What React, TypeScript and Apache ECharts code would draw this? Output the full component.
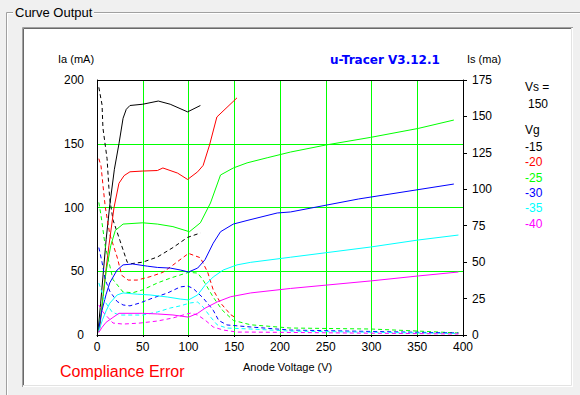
import React, { useEffect, useRef } from "react";
import * as echarts from "echarts";

// Vg legend (grid voltages) and their colours
const vgLabels = ["-15", "-20", "-25", "-30", "-35", "-40"];
const vgColors = ["#000000", "#ff0000", "#00ff00", "#0000ff", "#00ffff", "#ff00ff"];

// Anode current Ia (mA) vs anode voltage (V) — solid lines, left axis
const iaM15 = [[1, 2], [4, 25], [7, 50], [10, 75], [14, 102], [19, 130], [24, 150], [28.5, 170], [32, 177], [36, 180], [50, 181], [67, 183.5], [80, 181], [99, 175], [113, 180]];
const iaM20 = [[3, 5], [8, 40], [13, 70], [18.6, 100], [24, 119], [29.6, 125], [36, 128], [50, 128.6], [66, 129], [72, 131], [88, 127], [99, 122], [110, 128], [116, 133], [123, 149], [131, 171], [153, 186]];
const iaM25 = [[2, 5], [5, 20], [10, 50], [15, 70], [20, 82], [28.5, 87], [50, 88], [66, 87], [83, 85], [101, 81], [113, 88], [124, 103.5], [135, 125.5], [149, 131], [164, 135], [186, 139], [211.5, 143.5], [250, 149], [299, 155], [351, 162], [390, 168.6]];
const iaM30 = [[2, 5], [5, 18], [10, 32], [14, 41], [22, 51], [28.5, 55], [39, 55.7], [55, 54], [66, 53], [80, 52.5], [91, 51], [100, 49.4], [110, 52.5], [118, 59], [127, 72], [135, 81], [149, 87], [165, 90], [197, 95.7], [211.5, 96.5], [286, 106.7], [390, 118.4]];
const iaM35 = [[2, 3], [6, 12], [10, 19], [14, 25], [22, 31.4], [28.5, 33], [44, 32], [58, 31.4], [77, 29.8], [91, 28.2], [100, 27.5], [110, 31.4], [118, 39], [127, 45.5], [138, 51], [153, 55], [168, 57], [211.5, 61], [299, 69], [351, 74.5], [395, 78.4]];
const iaM40 = [[2, 2], [5.5, 6], [10, 10], [16.5, 13.3], [24, 17], [50, 17], [66, 16.5], [83, 15.7], [100, 14], [110, 17], [118, 21], [131.5, 26], [146, 30], [168, 33], [211.5, 36.5], [299, 42.4], [351, 46.3], [395, 49.4]];

// Screen current Is (ma) vs anode voltage (V) — dashed lines, right axis
const isM15 = [[2, 170], [5.5, 158], [6.5, 142], [11, 121], [13, 101], [14, 93], [17.5, 79], [25, 65], [33, 50], [38, 49], [50, 50], [66, 53.5], [83, 60], [99, 67], [113, 70]];
const isM20 = [[2, 121], [4.4, 116], [6.5, 103], [9, 88], [14, 69], [22, 53.5], [27, 41], [34, 37.7], [44, 37.7], [58, 40], [72, 43], [83, 48], [100, 56], [113, 53], [121, 43], [127, 31], [135, 22], [146, 14], [151, 12]];
const isM25 = [[2, 91], [4.4, 82], [9, 61], [17.5, 38], [28.5, 29.5], [39, 29], [50, 31], [66, 35.7], [80, 39], [100, 43], [110, 42.5], [116, 37.7], [127, 26], [137, 17], [149, 10], [168, 7], [211, 4.8], [300, 4.1], [351, 2.7], [395, 1.4]];
const isM30 = [[2, 60], [5.5, 50], [9, 38], [14, 30], [22, 23], [28.5, 20.6], [36, 20], [47, 22], [61, 25.4], [77, 28.8], [91, 33], [99, 33.6], [105, 32], [116, 25.4], [127, 17], [133, 10], [142, 6.9], [168, 5.5], [211, 3.4], [395, 1.4]];
const isM35 = [[2, 35.7], [9, 22.6], [16.5, 15.8], [24, 13.7], [36, 13.7], [50, 13.7], [66, 15.8], [80, 18.5], [91, 20], [102, 22], [110, 22.6], [116, 19.2], [124, 12.4], [131.5, 6.9], [142, 4.8], [168, 4.1], [211, 2.7], [395, 1]];
const isM40 = [[2, 20.6], [6.5, 15.8], [17.5, 8.2], [28.5, 7.5], [47, 8.2], [66, 9.6], [83, 11.7], [94, 13.7], [102, 15], [110, 13.7], [118, 10.3], [127, 5.5], [138, 3.4], [153, 2], [168, 2], [395, 0.7]];

const iaSets = [iaM15, iaM20, iaM25, iaM30, iaM35, iaM40];
const isSets = [isM15, isM20, isM25, isM30, isM35, isM40];

const titleText = "u-Tracer V3.12.1";
const vsValue = "150";

export default function App() {
  const ref = useRef<HTMLDivElement>(null);

  useEffect(() => {
    if (!ref.current) return;
    const chart = echarts.init(ref.current, null, { renderer: "svg" });
    const font = "'Liberation Sans', Arial, sans-serif";

    const series: any[] = [];
    vgLabels.forEach((vg, i) => {
      series.push({
        type: "line",
        name: "Ia " + vg,
        data: iaSets[i],
        xAxisIndex: 0,
        yAxisIndex: 0,
        symbol: "none",
        showSymbol: false,
        lineStyle: { color: vgColors[i], width: 1 },
        itemStyle: { color: vgColors[i] },
        z: 3,
      });
      series.push({
        type: "line",
        name: "Is " + vg,
        data: isSets[i],
        xAxisIndex: 0,
        yAxisIndex: 1,
        symbol: "none",
        showSymbol: false,
        lineStyle: { color: vgColors[i], width: 1, type: [4, 3] },
        itemStyle: { color: vgColors[i] },
        z: 3,
      });
    });

    const txt = (text: string, x: number, y: number, size: number, color = "#000", align = "left", extra: any = {}) => ({
      type: "text",
      x,
      y,
      z: 20,
      silent: true,
      style: {
        text,
        fill: color,
        font: `${extra.weight || "normal"} ${size}px ${extra.family || font}`,
        align,
        verticalAlign: "middle",
      },
    });

    const legendY = [147, 162, 178, 193, 208, 224];

    chart.setOption({
      animation: false,
      backgroundColor: "transparent",
      grid: { left: 97, top: 80, width: 366, height: 255, containLabel: false },
      xAxis: {
        type: "value",
        min: 0,
        max: 400,
        interval: 50,
        axisLine: { show: true, lineStyle: { color: "#000", width: 1 } },
        axisTick: { show: true, length: 2, lineStyle: { color: "#000" } },
        axisLabel: { color: "#000", fontSize: 12, fontFamily: font, margin: 6 },
        splitLine: { show: true, showMinLine: false, showMaxLine: false, lineStyle: { color: "#00ff00", width: 1 } },
      },
      yAxis: [
        {
          type: "value",
          min: 0,
          max: 200,
          interval: 50,
          position: "left",
          axisLine: { show: true, onZero: false, lineStyle: { color: "#000", width: 1 } },
          axisTick: { show: false },
          axisLabel: { color: "#000", fontSize: 12, fontFamily: font, margin: 13, padding: [5, 0, 0, 0] },
          splitLine: { show: true, showMinLine: false, showMaxLine: false, lineStyle: { color: "#00ff00", width: 1 } },
        },
        {
          type: "value",
          min: 0,
          max: 175,
          interval: 25,
          position: "right",
          axisLine: { show: true, onZero: false, lineStyle: { color: "#000", width: 1 } },
          axisTick: { show: true, inside: false, length: 4, lineStyle: { color: "#000" } },
          axisLabel: { color: "#000", fontSize: 12, fontFamily: font, margin: 9, padding: [5, 0, 0, 0] },
          splitLine: { show: false },
        },
      ],
      graphic: [
        // group box frame
        { type: "polyline", z: 1, silent: true, shape: { points: [[13, 12.5], [6.5, 12.5], [6.5, 395]] }, style: { stroke: "#a0a0a0", fill: null, lineWidth: 1 } },
        { type: "polyline", z: 1, silent: true, shape: { points: [[13, 13.5], [7.5, 13.5], [7.5, 395]] }, style: { stroke: "#ffffff", fill: null, lineWidth: 1 } },
        { type: "line", z: 1, silent: true, shape: { x1: 94, y1: 12.5, x2: 580, y2: 12.5 }, style: { stroke: "#a0a0a0", lineWidth: 1 } },
        { type: "line", z: 1, silent: true, shape: { x1: 94, y1: 13.5, x2: 580, y2: 13.5 }, style: { stroke: "#ffffff", lineWidth: 1 } },
        txt("Curve Output", 15, 12, 13),
        // white panel
        { type: "rect", z: -10, silent: true, shape: { x: 22, y: 27, width: 551, height: 360 }, style: { fill: "#ffffff", stroke: null } },
        { type: "polyline", z: 1, silent: true, shape: { points: [[22.5, 387], [22.5, 27.5], [573, 27.5]] }, style: { stroke: "#a0a0a0", fill: null, lineWidth: 1 } },
        { type: "polyline", z: 1, silent: true, shape: { points: [[23.5, 386], [23.5, 28.5], [572, 28.5]] }, style: { stroke: "#696969", fill: null, lineWidth: 1 } },
        { type: "polyline", z: 1, silent: true, shape: { points: [[23, 385.5], [571.5, 385.5], [571.5, 28]] }, style: { stroke: "#e3e3e3", fill: null, lineWidth: 1 } },
        // plot frame
        { type: "rect", z: 10, silent: true, shape: { x: 97.5, y: 80.5, width: 366, height: 255 }, style: { fill: null, stroke: "#000", lineWidth: 1 } },
        // titles and axis names
        txt(titleText, 330, 60, 12, "#0000ff", "left", { weight: "bold", family: "'DejaVu Sans', sans-serif" }),
        txt("Ia (mA)", 58, 59, 11),
        txt("Is (ma)", 467, 59, 11),
        txt("Anode Voltage (V)", 243, 367, 11),
        txt("Compliance Error", 60, 371, 16, "#ff0000"),
        // legend
        txt("Vs =", 525, 87, 12),
        txt(vsValue, 528, 104, 12),
        txt("Vg", 525, 130, 12),
        ...vgLabels.map((vg, i) => txt(vg, 525, legendY[i], 12, vgColors[i])),
      ],
      series,
    });

    return () => chart.dispose();
  }, []);

  return (
    <div
      ref={ref}
      style={{ position: "fixed", left: 0, top: 0, width: 580, height: 395, background: "#f0f0f0" }}
    />
  );
}
